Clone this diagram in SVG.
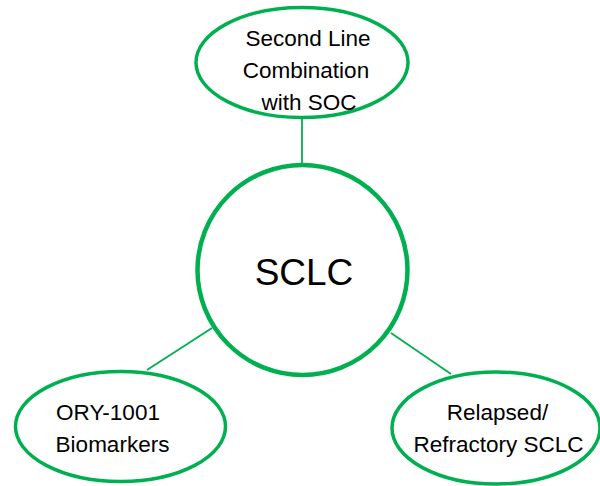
<svg xmlns="http://www.w3.org/2000/svg" width="600" height="486" viewBox="0 0 600 486">
<style>
.node{fill:#fff;stroke:#00B050;stroke-width:3.5}
.hub{fill:#fff;stroke:#00B050;stroke-width:4.5}
.conn{stroke:#00B050;stroke-width:1.8;fill:none}
text{font-family:"Liberation Sans",Arial,sans-serif;fill:#000;text-anchor:middle}
.lbl{font-size:22.5px}
.big{font-size:37px}
</style>
<rect width="600" height="486" fill="#fff"/>
<g id="connectors">
<line class="conn" x1="302" y1="119" x2="302" y2="164"/>
<line class="conn" x1="212" y1="328" x2="147" y2="370"/>
<line class="conn" x1="391" y1="333" x2="451" y2="374"/>
</g>
<g id="node-top">
<ellipse class="node" cx="302" cy="62.5" rx="106" ry="55"/>
<text class="lbl" x="308" y="46">Second Line</text>
<text class="lbl" x="306" y="78">Combination</text>
<text class="lbl" x="309" y="110">with SOC</text>
</g>
<g id="node-sclc">
<circle class="hub" cx="302.5" cy="270" r="105"/>
<text class="big" x="304" y="285">SCLC</text>
</g>
<g id="node-ory">
<ellipse class="node" cx="120.5" cy="426.5" rx="105" ry="55"/>
<text class="lbl" x="108" y="420">ORY-1001</text>
<text class="lbl" x="112.5" y="452">Biomarkers</text>
</g>
<g id="node-relapsed">
<ellipse class="node" cx="496" cy="428" rx="104" ry="56"/>
<text class="lbl" x="497.5" y="420">Relapsed/</text>
<text class="lbl" x="498.5" y="452">Refractory SCLC</text>
</g>
</svg>
